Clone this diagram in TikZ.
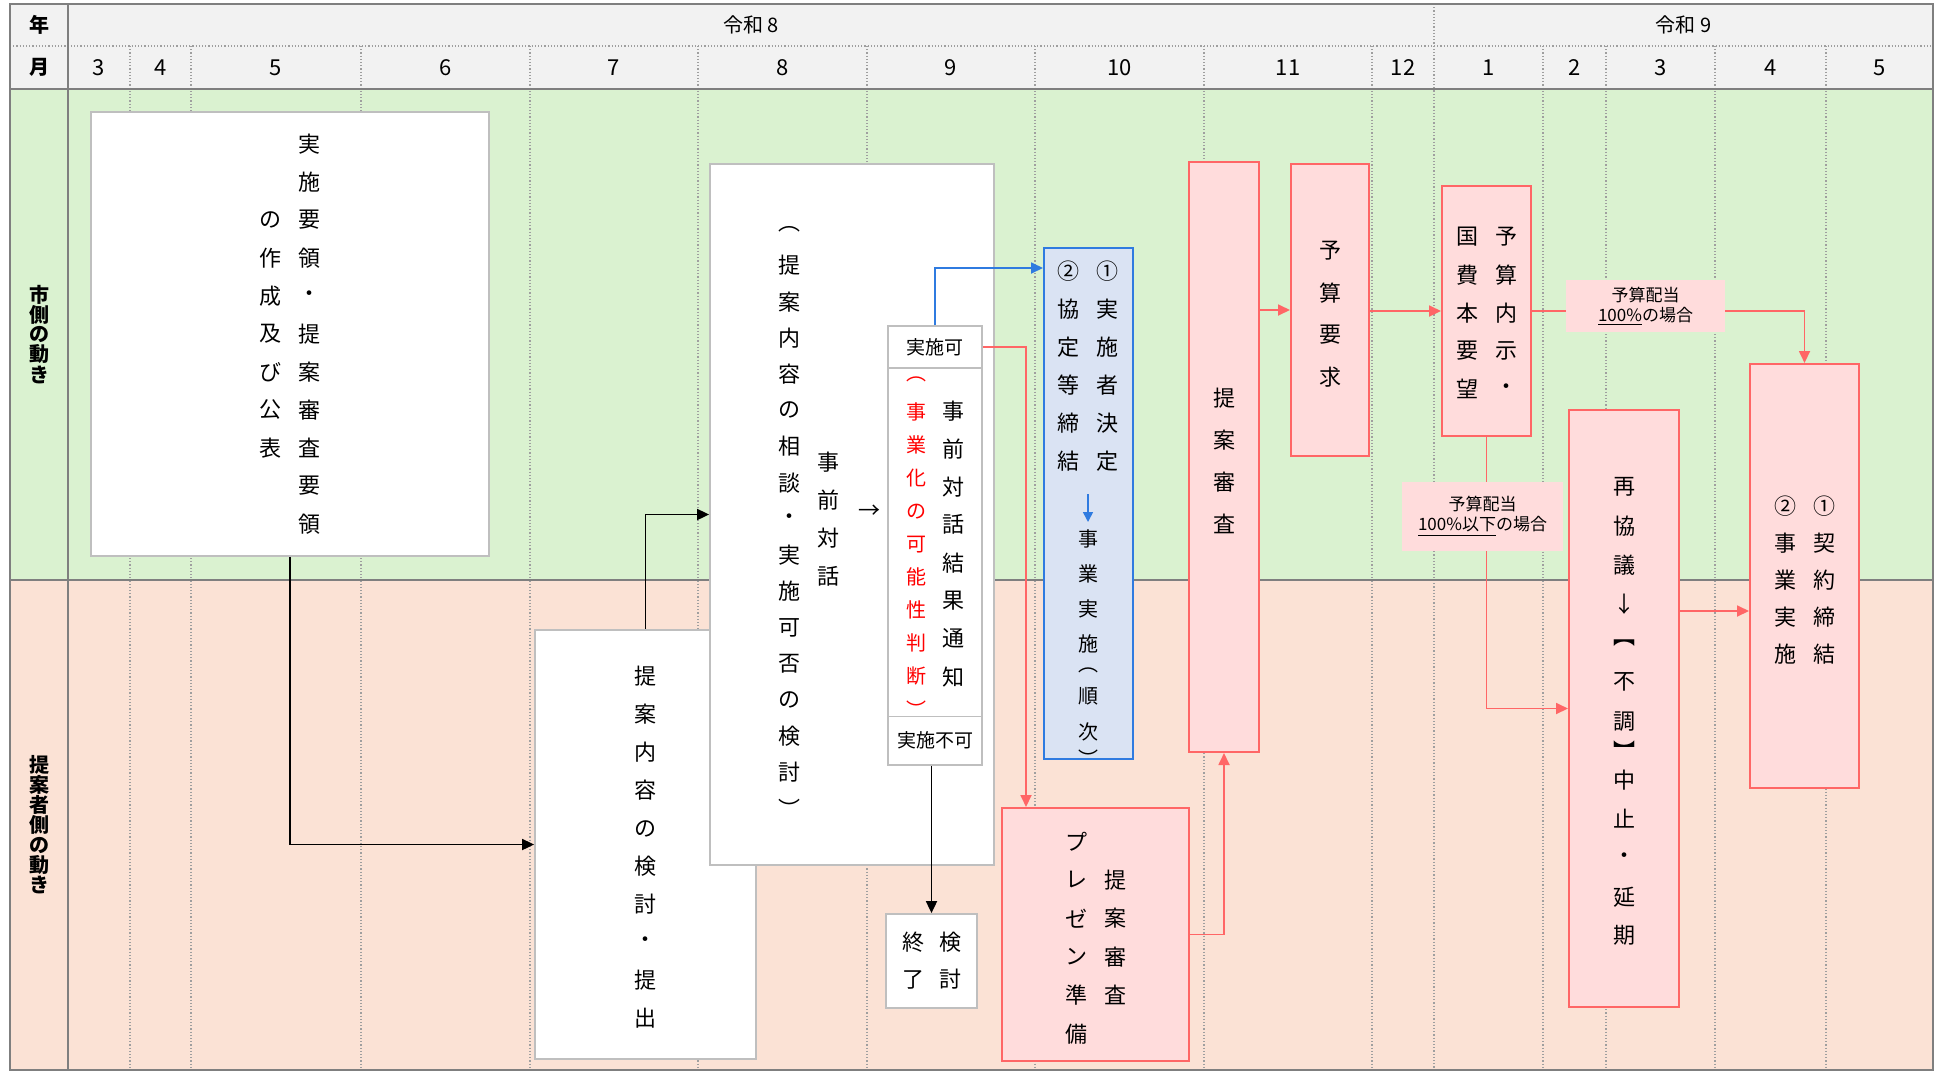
\documentclass[tikz,border=0pt]{standalone}
\usepackage{fontspec}
\setmainfont{Noto Sans CJK JP}
\usepackage{xcolor}
\usepackage{tikz}
\usetikzlibrary{arrows.meta, fit}

\definecolor{hdrgray}{HTML}{F2F2F2}
\definecolor{lanegreen}{HTML}{DAF2D0}
\definecolor{lanepeach}{HTML}{FBE2D5}
\definecolor{pinkfill}{HTML}{FFDCDC}
\definecolor{redline}{HTML}{FF6666}
\definecolor{bluefill}{HTML}{DAE3F3}
\definecolor{blueline}{HTML}{2F7BE0}
\definecolor{boxgray}{HTML}{BFBFBF}
\definecolor{framegray}{HTML}{7F7F7F}

%% vertical text: one column of characters, [pitch][column width]
\ExplSyntaxOn
\dim_new:N \l_tate_pitch_dim
\dim_new:N \l_tate_wd_dim
\cs_new_protected:Npn \tate_box:nn #1#2
  {
    \hbox_to_wd:nn { \l_tate_wd_dim }
      { \hss \vbox_to_ht:nn { #1 \l_tate_pitch_dim } { \vss \hbox:n {#2} \vss } \hss }
  }
\cs_new_protected:Npn \tate_cell:n #1
  {
    \tl_if_head_eq_meaning:nNTF {#1} \hc
      { \tate_box:nn { 0.5 } {#1} }
      { \tate_box:nn { 1 } {#1} }
  }
\NewDocumentCommand \tate { O{19pt} O{19.5pt} m }
  {
    \dim_set:Nn \l_tate_pitch_dim {#1}
    \dim_set:Nn \l_tate_wd_dim {#2}
    \ensuremath
      {
        \vcenter
          {
            \offinterlineskip
            \tl_map_inline:nn {#3} { \tate_cell:n {##1} }
          }
      }
  }
\ExplSyntaxOff
\newcommand{\hc}{}

\begin{document}
\begin{tikzpicture}[x=0.5pt, y=-0.5pt,
  tatefont/.style={font=\fontsize{11}{13}\selectfont},
  gbox/.style={rectangle, draw=boxgray, fill=white, line width=0.9pt, inner sep=0pt},
  rbox/.style={rectangle, draw=redline, fill=pinkfill, line width=1pt, inner sep=0pt},
  bbox/.style={rectangle, draw=blueline, fill=bluefill, line width=1pt, inner sep=0pt},
  lbl/.style={rectangle, fill=pinkfill, inner sep=0pt},
  lbltxt/.style={align=center, inner sep=0pt, font=\fontsize{8.5}{10}\selectfont},
  smalltxt/.style={inner sep=0pt, font=\fontsize{9.5}{11}\selectfont},
  hdr/.style={font=\fontsize{11}{13}\selectfont},
  lane/.style={font=\bfseries\fontsize{10}{10}\selectfont},
  mline/.style={draw=gray!75, densely dotted, line width=0.6pt},
  gridframe/.style={draw=framegray, line width=1pt},
  blk/.style={-{Triangle[length=6pt,width=5.5pt]}, line width=0.9pt, black},
  rarr/.style={-{Triangle[length=6pt,width=5.5pt]}, line width=0.9pt, redline},
  rline/.style={line width=0.9pt, redline},
  barr/.style={-{Triangle[length=6pt,width=5.5pt]}, line width=0.9pt, blueline}
]
\useasboundingbox (0,0) rectangle (1937,1071);
%% Table background
\fill[hdrgray] (10,4) rectangle (1933,89);
\fill[lanegreen] (10,89) rectangle (1933,580);
\fill[lanepeach] (10,580) rectangle (1933,1070);
%% Month grid
\draw[mline] (10,46) -- (1933,46);
\draw[mline] (130,46) -- (130,1070) (191,46) -- (191,1070) (361,46) -- (361,1070)
  (530,46) -- (530,1070) (698,46) -- (698,1070) (867,46) -- (867,1070)
  (1035,46) -- (1035,1070) (1204,46) -- (1204,1070) (1372,46) -- (1372,1070)
  (1434,4) -- (1434,1070) (1543,46) -- (1543,1070) (1606,46) -- (1606,1070)
  (1715,46) -- (1715,1070) (1826,46) -- (1826,1070);
\draw[gridframe] (10,4) rectangle (1933,1070);
\draw[gridframe] (68,4) -- (68,1070);
\draw[gridframe, line width=1.3pt] (10,89) -- (1933,89);
\draw[gridframe] (10,580) -- (1933,580);
%% Header
\node[hdr, font=\bfseries\fontsize{10}{12}\selectfont] (nen) at (39,25) {年};
\node[hdr, font=\bfseries\fontsize{10}{12}\selectfont] (tsuki) at (39,67.5) {月};
\node[hdr, font=\fontsize{10}{12}\selectfont] (r8) at (751,25) {令和 8};
\node[hdr, font=\fontsize{10}{12}\selectfont] (r9) at (1683.5,25) {令和 9};
\node[hdr] (m3) at (99,67.5) {3};
\node[hdr] (m4) at (160.5,67.5) {4};
\node[hdr] (m5) at (276,67.5) {5};
\node[hdr] (m6) at (445.5,67.5) {6};
\node[hdr] (m7) at (614,67.5) {7};
\node[hdr] (m8) at (782.5,67.5) {8};
\node[hdr] (m9) at (951,67.5) {9};
\node[hdr] (m10) at (1119.5,67.5) {10};
\node[hdr] (m11) at (1288,67.5) {11};
\node[hdr] (m12) at (1403,67.5) {12};
\node[hdr] (n1) at (1488.5,67.5) {1};
\node[hdr] (n2) at (1574.5,67.5) {2};
\node[hdr] (n3) at (1660.5,67.5) {3};
\node[hdr] (n4) at (1770.5,67.5) {4};
\node[hdr] (n5) at (1879.5,67.5) {5};
%% Lane labels
\node[lane] (ichigawa) at (39,334.5) {\tate[10pt][12pt]{市側の動き}};
\node[lane] (teiangawa) at (39,825) {\tate[10pt][12pt]{提案者側の動き}};
%% City side / proposer side boxes
\node[gbox, fit={(91,112) (489,556)}] (yoryo) {};
\node[tatefont] (yoryotxt) at (yoryo.center) {\tate{の作成及び公表}\tate{実施要領・提案審査要領}};
\node[gbox, fit={(535,630) (756,1059)}] (kento) {};
\node[tatefont] (kentotxt) at ([yshift=-1.5pt]kento.center) {\tate{提案内容の検討・提出}};
\node[gbox, fit={(710,164) (994,865)}] (taiwa) {};
\node[tatefont] (taiwatxt) at (808.5,519) {\tate[18.1pt]{︵提案内容の相談・実施可否の検討︶}\tate{事前対話}};
\node[tatefont] (taiwaarr) at (869,512) {→};
%% Result of dialogue
\node[gbox, fit={(888,326) (982,368)}] (jisshika) {};
\node[smalltxt] (jisshikatxt) at (jisshika.center) {実施可};
\node[gbox, fit={(888,368) (982,716.5)}] (kekka) {};
\node[tatefont] (kekkatxt) at ([yshift=-1pt]kekka.center) {{\fontsize{10}{12}\selectfont\color{red}\tate[16.5pt][18.5pt]{︵事業化の可能性判断︶}}\tate[19pt][18.5pt]{事前対話結果通知}};
\node[gbox, fit={(888,716.5) (982,765)}] (jisshifuka) {};
\node[smalltxt] (jisshifukatxt) at (jisshifuka.center) {実施不可};
\node[gbox, fit={(886,914) (977,1008)}] (shuryo) {};
\node[tatefont] (shuryotxt) at (shuryo.center) {\tate[18.5pt][18.5pt]{終了}\tate[18.5pt][18.5pt]{検討}};
%% Decision box
\node[bbox, fit={(1044,248) (1133,759)}] (kettei) {};
\node[tatefont] (ketteitxt) at (1087.5,366.5) {\tate{②協定等締結}\tate{①実施者決定}};
\coordinate (ea) at (1088,494);
\coordinate (eb) at (1088,522);
\node[font=\fontsize{10}{12}\selectfont] (jigyotxt) at (1088,644) {\tate[17.5pt]{事業実施{\hc ︵}順次{\hc ︶}}};
%% Review and budget
\node[rbox, fit={(1002,808) (1189,1061)}] (presen) {};
\node[tatefont] (presentxt) at ([yshift=-1.5pt]presen.center) {\tate[19.25pt]{プレゼン準備}\tate[19.25pt]{提案審査}};
\node[rbox, fit={(1189,162) (1259,752)}] (shinsa) {};
\node[tatefont] (shinsatxt) at ([yshift=-2pt]shinsa.center) {\tate[21pt]{提案審査}};
\node[rbox, fit={(1291,164) (1369,456)}] (yosan) {};
\node[tatefont] (yosantxt) at ([yshift=-2pt]yosan.center) {\tate[21pt]{予算要求}};
\node[rbox, fit={(1442,186) (1531,436)}] (naiji) {};
\node[tatefont] (naijitxt) at ([yshift=-1pt]naiji.center) {\tate{国費本要望}\tate{予算内示・}};
\node[lbl, fit={(1566,280) (1725,332)}] (lbl100) {};
\node[lbltxt] (lbl100txt) at (lbl100.center) {予算配当\\\underline{100\%}の場合};
\node[lbl, fit={(1402,482) (1563,551)}] (lblika) {};
\node[lbltxt] (lblikatxt) at (lblika.center) {予算配当\\\underline{100\%以下}の場合};
\node[rbox, fit={(1569,410) (1679,1007)}] (saikyogi) {};
\node[tatefont] (saikyogitxt) at ([yshift=-1.5pt]saikyogi.center) {\tate[19.5pt]{再協議↓︻不調{\hc ︼}中止・延期}};
\node[rbox, fit={(1750,364) (1859,788)}] (keiyaku) {};
\node[tatefont] (keiyakutxt) at ([yshift=-2pt]keiyaku.center) {\tate[18.5pt]{②事業実施}\tate[18.5pt]{①契約締結}};
%% Connectors
\coordinate (ktop) at (0,268);
\coordinate (kiy) at (0,611);
\draw[blk] (yoryo.south) |- (kento.west);
\draw[blk] (kento.north) |- (taiwa.west);
\draw[barr] (jisshika.north) |- (kettei.west |- ktop);
\draw[barr, line width=0.8pt, -{Triangle[length=5pt,width=5pt]}] (ea) -- (eb);
\draw[rarr] (jisshika.east) -| ([xshift=12.5pt]presen.north west);
\draw[blk] (jisshifuka.south -| shuryo.north) -- (shuryo.north);
\draw[rarr] (presen.east) -| (shinsa.south);
\draw[rarr] (shinsa.east |- yosan.west) -- (yosan.west);
\draw[rarr] (yosan.east |- naiji.west) -- (naiji.west);
\draw[rline] (naiji.east) -- (naiji.east -| lbl100.west);
\draw[rarr] (lbl100.east |- naiji.east) -| (keiyaku.north);
\draw[rline] (naiji.south) -- (naiji.south |- lblika.north);
\draw[rarr] (naiji.south |- lblika.south) |- (saikyogi.west);
\draw[rarr] (saikyogi.east |- kiy) -- (keiyaku.west |- kiy);
\end{tikzpicture}
\end{document}
